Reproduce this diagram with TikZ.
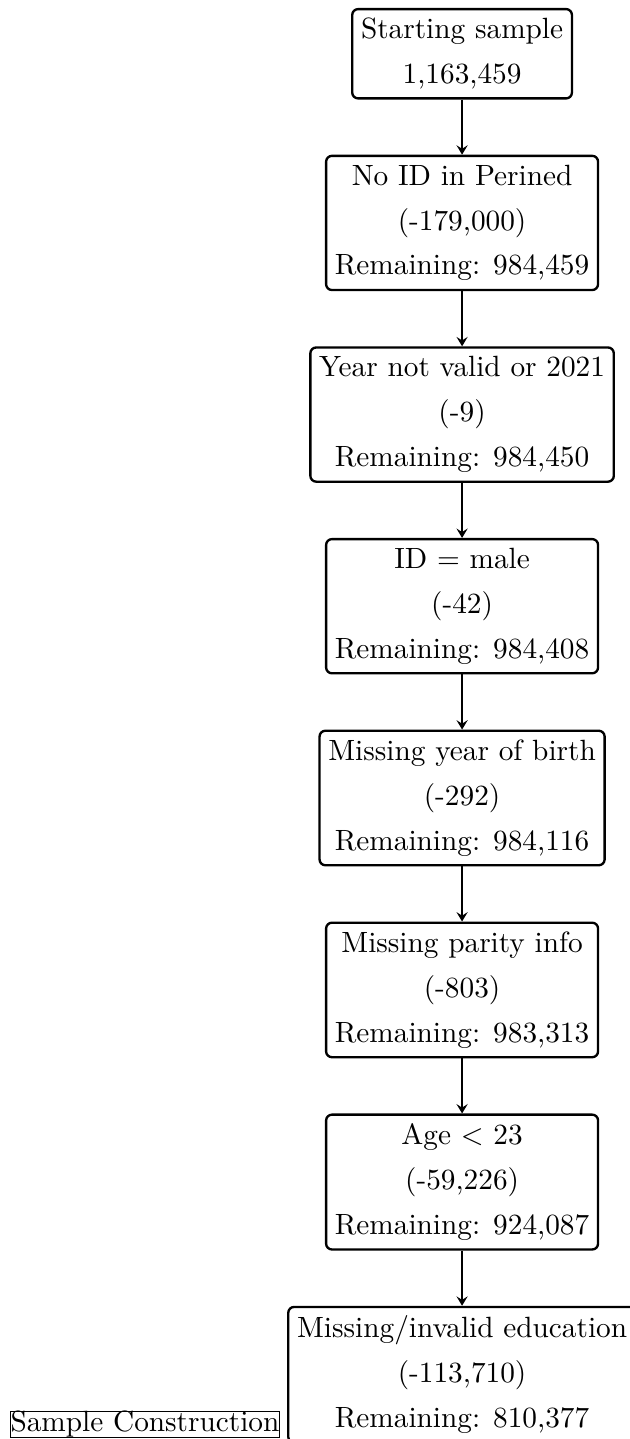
\documentclass[tikz,border=0pt]{standalone}
\usetikzlibrary{positioning,arrows.meta}
\begin{document}
\begin{tikzpicture}[
  x=1pt,y=1pt,
  stepbox/.style={draw, thick, rounded corners=2pt, align=center,
    inner xsep=3pt, inner ysep=3.1pt,
    font=\fontsize{10pt}{15.3pt}\selectfont},
  flow/.style={-{Stealth[length=3.2pt,width=3.8pt,inset=1.2pt]}, thick},
  node distance=18.8pt
]
\useasboundingbox (0,0) rectangle (215,-491.1);
\node[stepbox, anchor=north] (s1) at (157.7,-2.7) {Starting sample\\1,163,459};
\node[stepbox, below=of s1] (s2) {No ID in Perined\\(-179,000)\\Remaining: 984,459};
\node[stepbox, below=of s2] (s3) {Year not valid or 2021\\(-9)\\Remaining: 984,450};
\node[stepbox, below=of s3] (s4) {ID = male\\(-42)\\Remaining: 984,408};
\node[stepbox, below=of s4] (s5) {Missing year of birth\\(-292)\\Remaining: 984,116};
\node[stepbox, below=of s5] (s6) {Missing parity info\\(-803)\\Remaining: 983,313};
\node[stepbox, below=of s6] (s7) {Age $<$ 23\\(-59,226)\\Remaining: 924,087};
\node[stepbox, below=of s7] (s8) {Missing/invalid education\\(-113,710)\\Remaining: 810,377};
\draw[flow] (s1) -- (s2);
\draw[flow] (s2) -- (s3);
\draw[flow] (s3) -- (s4);
\draw[flow] (s4) -- (s5);
\draw[flow] (s5) -- (s6);
\draw[flow] (s6) -- (s7);
\draw[flow] (s7) -- (s8);
\node[draw, thin, inner sep=0pt, anchor=south west] (cap) at (3.4,-490.8) {Sample Construction};
\end{tikzpicture}
\end{document}
